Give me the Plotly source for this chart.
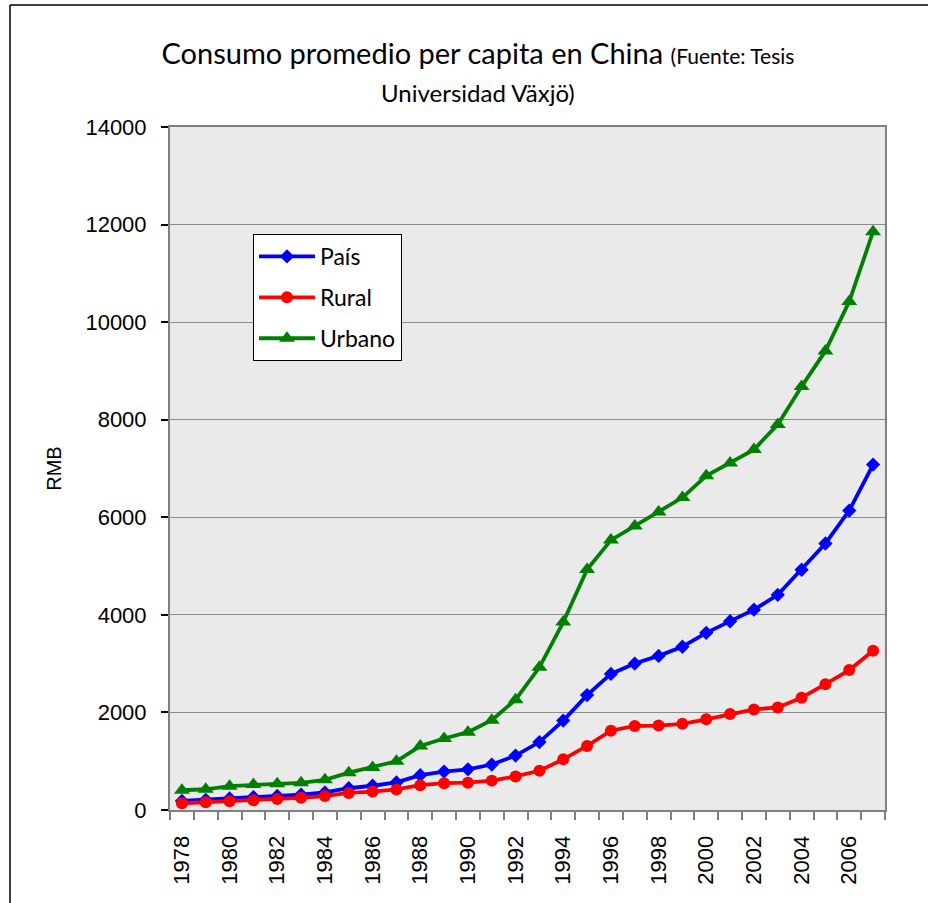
import plotly.graph_objects as go

years = list(range(1978, 2008))
pais = [184, 208, 238, 264, 288, 316, 361, 446, 497, 565, 714, 788, 833, 932, 1116,
        1393, 1833, 2355, 2789, 3002, 3159, 3346, 3632, 3869, 4106, 4411, 4925, 5463, 6138, 7081]
rural = [138, 159, 178, 201, 223, 250, 287, 349, 378, 421, 509, 549, 560, 602, 688,
         805, 1038, 1313, 1626, 1722, 1730, 1766, 1860, 1969, 2062, 2103, 2301, 2579, 2868, 3265]
urbano = [405, 425, 489, 521, 536, 558, 618, 765, 872, 998, 1311, 1466, 1596, 1840, 2262,
          2924, 3852, 4931, 5532, 5823, 6109, 6405, 6850, 7113, 7387, 7901, 8679, 9410, 10423, 11855]
year_labels = [str(y) for y in range(1978, 2008, 2)]
y_ticks = list(range(0, 14001, 2000))

fig = go.Figure()
series = [
    ("País", pais, "#0000FF", "diamond", 11),
    ("Rural", rural, "#FF0000", "circle", 12),
    ("Urbano", urbano, "#008000", "triangle-up", 14),
]
for i, (name, vals, col, sym, sz) in enumerate(series):
    fig.add_trace(go.Scatter(
        x=years, y=vals, name=name, mode="lines+markers",
        line=dict(color=col, width=3.8),
        marker=dict(symbol=sym, size=sz, color=col),
        legendgroup=f"g{i}",
    ))

W, H = 928, 903
L, R, T, B = 170, 43, 127, 93
pw, ph = W - L - R, H - T - B

border = dict(color="black", width=1.5)
fig.update_layout(
    width=W, height=H,
    margin=dict(l=L, r=R, t=T, b=B),
    paper_bgcolor="white",
    plot_bgcolor="#EAEAEA",
    showlegend=True,
    title=dict(
        text="Consumo promedio per capita en China <span style='font-size:21px'>(Fuente: Tesis</span><br>"
             "<span style='font-size:24px'>Universidad Växjö)</span>",
        font=dict(family="Lato, Open Sans, sans-serif", size=29, color="black"),
        x=0.515, xanchor="center", xref="container",
        y=1 - 64 / H, yanchor="top",
    ),
    legend=dict(
        x=(253 - L) / pw, y=(H - B - 234) / ph, xanchor="left", yanchor="top",
        bgcolor="white", bordercolor="black", borderwidth=1,
        font=dict(family="Lato, Open Sans, sans-serif", size=23, color="black"),
        tracegroupgap=8, itemwidth=56,
    ),
    xaxis=dict(
        range=[1977.5, 2007.5],
        tickmode="array", tickvals=[int(s) for s in year_labels], ticktext=year_labels,
        tickangle=-90, ticks="", showgrid=False, zeroline=False,
        ticklabelstandoff=15,
        tickfont=dict(family="Liberation Sans, Arial", size=22, color="black"),
        showline=True, linecolor="#808080", linewidth=2, mirror=True,
        minor=dict(tickmode="linear", tick0=1977.5, dtick=1, ticks="outside",
                   ticklen=8, tickcolor="#808080", tickwidth=1.5, showgrid=False),
    ),
    yaxis=dict(
        range=[0, 14000], tickmode="array", tickvals=y_ticks, ticktext=[str(v) for v in y_ticks],
        showgrid=True, gridcolor="#8C8C8C", gridwidth=1, zeroline=False,
        ticks="outside", ticklen=7, tickcolor="black", tickwidth=1.5,
        ticklabelstandoff=10,
        tickfont=dict(family="Liberation Sans, Arial", size=22, color="black"),
        showline=True, linecolor="#808080", linewidth=2, mirror=True,
        title=dict(text="RMB", font=dict(family="Liberation Sans, Arial", size=20, color="black"),
                   standoff=18),
    ),
    shapes=[
        dict(type="line", xref="paper", yref="paper",
             x0=(10 - L) / pw, x1=1 + (W + 5 - (W - R)) / pw,
             y0=1 + (T - 5) / ph, y1=1 + (T - 5) / ph, line=border),
        dict(type="line", xref="paper", yref="paper",
             x0=(10 - L) / pw, x1=(10 - L) / pw,
             y0=1 + (T - 5) / ph, y1=-(B + 20) / ph, line=border),
    ],
)

fig.write_html("out.html", config={"displayModeBar": False},
               post_script="document.body.style.margin='0';")
